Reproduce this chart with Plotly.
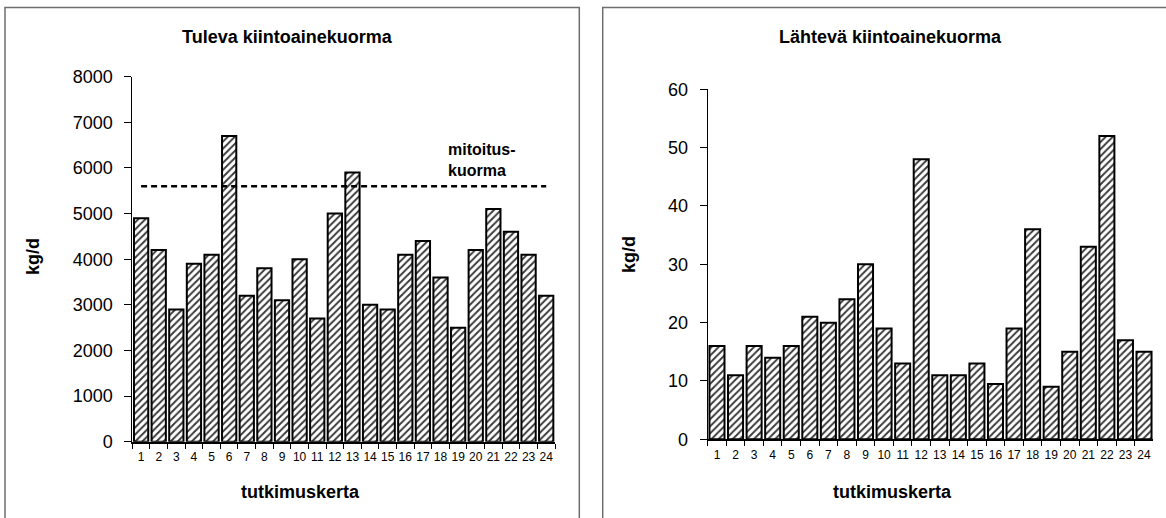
import plotly.graph_objects as go

W, H = 1166, 518

categories = [str(i) for i in range(1, 25)]
tuleva = [4900, 4200, 2900, 3900, 4100, 6700, 3200, 3800, 3100, 4000, 2700, 5000,
          5900, 3000, 2900, 4100, 4400, 3600, 2500, 4200, 5100, 4600, 4100, 3200]
lahteva = [16, 11, 16, 14, 16, 21, 20, 24, 30, 19, 13, 48,
           11, 11, 13, 9.5, 19, 36, 9, 15, 33, 52, 17, 15]
mitoitus = 5600

title_left = "Tuleva kiintoainekuorma"
title_right = "Lähtevä kiintoainekuorma"
y_title = "kg/d"
x_title = "tutkimuskerta"
mitoitus_label = "mitoitus-<br>kuorma"

FONT = "'Liberation Sans', Arial, sans-serif"


def px(x):
    return x / W


def py(y):
    return 1 - y / H


bar_style = dict(
    color="white",
    line=dict(color="black", width=2),
    pattern=dict(shape="/", fgcolor="#383838", bgcolor="white", size=5, solidity=0.38),
)

fig = go.Figure()
fig.add_trace(go.Bar(x=categories, y=tuleva, marker=bar_style, xaxis="x", yaxis="y",
                     showlegend=False, hoverinfo="skip"))
fig.add_trace(go.Scatter(x=categories, y=[mitoitus] * len(categories), mode="lines",
                         line=dict(color="black", width=2.5, dash="6px,4px"),
                         xaxis="x", yaxis="y", showlegend=False, hoverinfo="skip"))
fig.add_trace(go.Bar(x=categories, y=lahteva, marker=bar_style, xaxis="x2", yaxis="y2",
                     showlegend=False, hoverinfo="skip"))

xaxis_common = dict(
    type="category", showline=True, linecolor="black", linewidth=2,
    ticks="outside", ticklen=5, tickcolor="black", tickwidth=1, tickson="boundaries",
    tickangle=0, automargin=False, ticklabelstandoff=3,
    tickfont=dict(size=12, color="black", family=FONT), showgrid=False, zeroline=False,
    fixedrange=True,
)
yaxis_common = dict(
    showline=True, linecolor="black", linewidth=1, ticks="outside", ticklen=7,
    tickcolor="black", tickwidth=1, tickfont=dict(size=18, color="black", family=FONT),
    ticklabelstandoff=8,
    showgrid=False, zeroline=False, fixedrange=True, automargin=False,
)

fig.update_layout(
    template="none",
    width=W, height=H,
    margin=dict(l=0, r=0, t=0, b=0, pad=0, autoexpand=False),
    paper_bgcolor="white", plot_bgcolor="white",
    bargap=0.19,
    font=dict(family=FONT, color="black"),
    xaxis=dict(domain=[px(132.3), px(555)], anchor="y", **xaxis_common),
    yaxis=dict(domain=[py(441.7), py(76.7)], anchor="x", range=[0, 8000], dtick=1000,
               **yaxis_common),
    xaxis2=dict(domain=[px(707.7), px(1153.3)], anchor="y2", **xaxis_common),
    yaxis2=dict(domain=[py(439.3), py(89.3)], anchor="x2", range=[0, 60], dtick=10,
                **yaxis_common),
)

# panel borders
fig.add_shape(type="rect", xref="paper", yref="paper",
              x0=px(5), x1=px(579.3), y0=-0.05, y1=py(7.5),
              line=dict(color="#6e6e6e", width=1.5), fillcolor="rgba(0,0,0,0)", layer="below")
fig.add_shape(type="rect", xref="paper", yref="paper",
              x0=px(602.7), x1=1.05, y0=-0.05, y1=py(7.5),
              line=dict(color="#6e6e6e", width=1.5), fillcolor="rgba(0,0,0,0)", layer="below")

bold = dict(family=FONT, size=18, color="black")
ann = [
    dict(text="<b>%s</b>" % title_left, x=px(287), y=py(37)),
    dict(text="<b>%s</b>" % title_right, x=px(890), y=py(37)),
    dict(text="<b>%s</b>" % x_title, x=px(300), y=py(492)),
    dict(text="<b>%s</b>" % x_title, x=px(892), y=py(492)),
    dict(text="<b>%s</b>" % y_title, x=px(33), y=py(257), textangle=-90),
    dict(text="<b>%s</b>" % y_title, x=px(629), y=py(255), textangle=-90),
]
for a in ann:
    fig.add_annotation(xref="paper", yref="paper", showarrow=False, xanchor="center",
                       yanchor="middle", font=bold, **a)

fig.add_annotation(xref="paper", yref="paper", showarrow=False, x=px(446), y=py(160),
                   xanchor="left", yanchor="middle", align="left",
                   text="<b>%s</b>" % mitoitus_label,
                   font=dict(family=FONT, size=16, color="black"))

fig.write_html("out.html",
               config={"displayModeBar": False, "staticPlot": True},
               post_script="document.body.style.margin='0px';"
                           "document.body.style.overflow='hidden';")
